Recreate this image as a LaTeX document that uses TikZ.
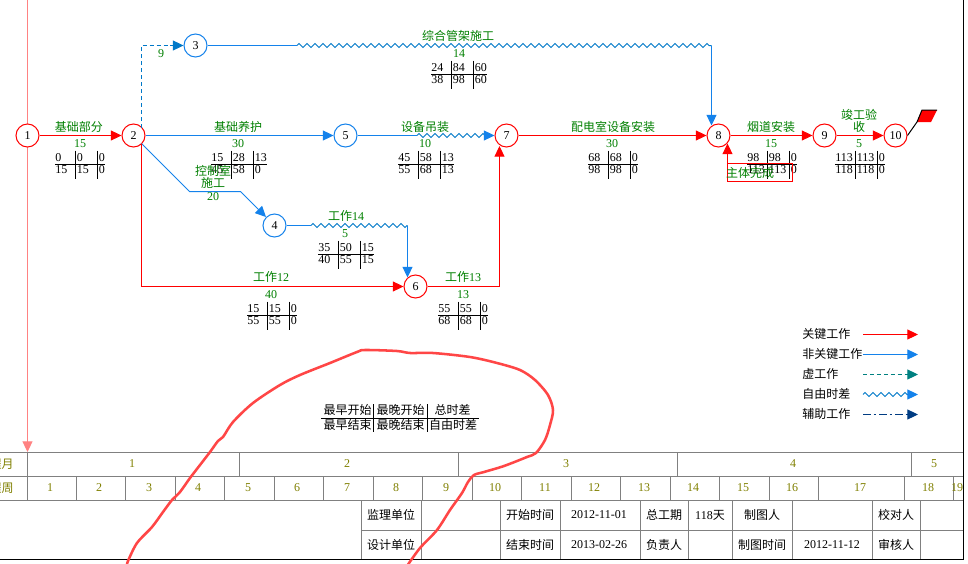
\documentclass[tikz,border=0pt]{standalone}
\usepackage{fontspec}
\setmainfont{Liberation Serif}
\newfontfamily\cjk{Noto Sans CJK SC}
\usetikzlibrary{arrows.meta,decorations.pathmorphing}
\definecolor{netred}{RGB}{255,0,0}
\definecolor{netblue}{RGB}{20,130,235}
\definecolor{netgreen}{RGB}{0,128,0}
\definecolor{netolive}{RGB}{128,128,0}
\definecolor{netgray}{RGB}{128,128,128}
\definecolor{netteal}{RGB}{0,128,128}
\definecolor{netnavy}{RGB}{0,60,130}
\definecolor{netdash}{RGB}{0,120,200}
\definecolor{netpink}{RGB}{255,130,130}
\definecolor{netpen}{RGB}{255,70,70}
\tikzset{
  px/.style={x=0.75pt,y=-0.75pt},
  thinline/.style={line width=0.75pt},
  headed/.style={-{Triangle[length=8pt,width=7.5pt]}},
  evt/.style={circle,draw,fill=white,line width=0.75pt,minimum size=17.25pt,inner sep=0pt,font=\fontsize{9pt}{9pt}\selectfont},
  evtred/.style={evt,draw=netred},
  evtblue/.style={evt,draw=netblue},
  zz/.style={thinline,decorate,decoration={zigzag,segment length=6pt,amplitude=1.5pt}},
  txt/.style={inner sep=0pt,font=\fontsize{9pt}{10pt}\selectfont},
  glabel/.style={txt,text=netgreen,align=center},
  blabel/.style={txt,text=black},
  olabel/.style={txt,text=netolive},
}
\newcount\lblno
\newcommand{\putlabel}[4]{\global\advance\lblno by 1 \node[#1] (lab\the\lblno) at (#2,#3) {#4};}
\newcommand{\tribox}[9]{%
  % #1 x0, #2 y of rule, #3 rule length, #4-#9 values
  \draw[thinline] (#1,#2) -- ++(#3,0);
  \draw[thinline] (#1+20.5,#2-14) -- ++(0,28);
  \draw[thinline] (#1+42.5,#2-14) -- ++(0,28);
  \putlabel{blabel,anchor=west}{#1}{#2-6.5}{#4}
  \putlabel{blabel,anchor=west}{#1+21.5}{#2-6.5}{#5}
  \putlabel{blabel,anchor=west}{#1+43.5}{#2-6.5}{#6}
  \putlabel{blabel,anchor=west}{#1}{#2+5.5}{#7}
  \putlabel{blabel,anchor=west}{#1+21.5}{#2+5.5}{#8}
  \putlabel{blabel,anchor=west}{#1+43.5}{#2+5.5}{#9}
}
\begin{document}
\begin{tikzpicture}[px]
\useasboundingbox (0,0) rectangle (968,564);
\fill[white] (0,0) rectangle (968,564);

% start line
\coordinate (ptop) at (27.5,0);
\coordinate (pbot) at (27.5,452);
\draw[thinline,netpink,headed] (ptop) -- (pbot);

% events
\node[evtred]  (n1) at (27.5,135.5) {1};
\node[evtred]  (n2) at (133.5,135.5) {2};
\node[evtblue] (n3) at (195.5,45.5) {3};
\node[evtblue] (n4) at (274.5,225.5) {4};
\node[evtblue] (n5) at (345.5,135.5) {5};
\node[evtred]  (n6) at (415.5,286.5) {6};
\node[evtred]  (n7) at (506.5,135.5) {7};
\node[evtred]  (n8) at (718.5,135.5) {8};
\node[evtred]  (n9) at (824.5,135.5) {9};
\node[evtred]  (n10) at (895.5,135.5) {10};

% helper coordinates
\coordinate (v2up) at (141.5,127.5);
\coordinate (v2dn) at (141.5,143.5);
\coordinate (c24a) at (189.5,191.5);
\coordinate (c24b) at (240.5,191.5);
\coordinate (w3a) at (297,45.5);
\coordinate (w3b) at (711.5,45.5);
\coordinate (e38) at (711.5,125.5);
\coordinate (w5a) at (417,135.5);
\coordinate (w5b) at (490,135.5);
\coordinate (w4a) at (311,225.5);
\coordinate (w4b) at (407.5,225.5);
\coordinate (e46) at (407.5,277.5);
\coordinate (e67) at (499.5,146);
\coordinate (e98) at (727.5,143.5);

% connectors
\draw[thinline,draw=netdash,dash pattern=on 3pt off 2.2pt,-{Triangle[length=8pt,width=7.5pt,fill=netdash]}] (v2up) |- (n3);
\draw[thinline,netred,headed] (n1) -- (n2);
\draw[thinline,netblue,headed] (n2) -- (n5);
\draw[thinline,netblue,headed] (v2dn) -- (c24a) -- (c24b) -- (n4);
\draw[thinline,netred,headed] (v2dn) |- (n6);
\draw[thinline,netblue] (n3) -- (w3a);
\draw[zz,draw=netdash] (w3a) -- (w3b);
\draw[thinline,netblue,headed] (w3b) -- (e38);
\draw[thinline,netblue] (n5) -- (w5a);
\draw[zz,draw=netdash] (w5a) -- (w5b);
\draw[thinline,netblue,headed] (w5b) -- (n7);
\draw[thinline,netblue] (n4) -- (w4a);
\draw[zz,draw=netdash] (w4a) -- (w4b);
\draw[thinline,netblue,headed] (w4b) -- (e46);
\draw[thinline,netred,headed] (n6) -| (e67);
\draw[thinline,netred,headed] (n7) -- (n8);
\draw[thinline,netred,headed] (n8) -- (n9);
\draw[thinline,netred,headed] (n9) -- (n10);

% flag
\coordinate (fa) at (917,122);
\draw[thinline] (n10.east) -- (fa);
\fill[netred] (fa) -- (922,110) -- (937,110) -- (931,122) -- cycle;
\draw[thinline] (fa) -- (922,110) -- (937,110);

% green labels
\putlabel{glabel}{79}{127}{\cjk 基础部分}
\putlabel{glabel}{80}{144}{15}
\putlabel{glabel}{238}{127}{\cjk 基础养护}
\putlabel{glabel}{238}{144}{30}
\putlabel{glabel}{458}{36}{\cjk 综合管架施工}
\putlabel{glabel}{459}{54}{14}
\putlabel{glabel}{425}{127}{\cjk 设备吊装}
\putlabel{glabel}{425}{144}{10}
\putlabel{glabel}{613}{127}{\cjk 配电室设备安装}
\putlabel{glabel}{612}{144}{30}
\putlabel{glabel}{771}{127}{\cjk 烟道安装}
\putlabel{glabel}{771}{144}{15}
\putlabel{glabel}{859}{115}{\cjk 竣工验}
\putlabel{glabel}{859}{127}{\cjk 收}
\putlabel{glabel}{859}{144}{5}
\putlabel{glabel}{346}{216}{{\cjk 工作}14}
\putlabel{glabel}{345}{234}{5}
\putlabel{glabel}{271}{277}{{\cjk 工作}12}
\putlabel{glabel}{271}{295}{40}
\putlabel{glabel}{463}{277}{{\cjk 工作}13}
\putlabel{glabel}{463}{295}{13}
\putlabel{glabel}{161}{54}{9}

% time tables
\tribox{55}{164.5}{50}{0}{0}{0}{15}{15}{0}
\tribox{211}{164.5}{56}{15}{28}{13}{45}{58}{0}
\tribox{431}{74.5}{56}{24}{84}{60}{38}{98}{60}
\tribox{398}{164.5}{56}{45}{58}{13}{55}{68}{13}
\tribox{588}{164.5}{50}{68}{68}{0}{98}{98}{0}
\tribox{747}{164.5}{50}{98}{98}{0}{113}{113}{0}
\tribox{835}{164.5}{50}{113}{113}{0}{118}{118}{0}
\tribox{318}{254.5}{56}{35}{50}{15}{40}{55}{15}
\tribox{247}{315.5}{50}{15}{15}{0}{55}{55}{0}
\tribox{438}{315.5}{50}{55}{55}{0}{68}{68}{0}

% labels drawn over the tables
\putlabel{glabel}{213}{171}{\cjk 控制室}
\putlabel{glabel}{213}{183}{\cjk 施工}
\putlabel{glabel}{213}{197}{20}
\node[glabel,draw=netred,line width=0.75pt,outer sep=0pt,minimum width=48.75pt,minimum height=13.5pt] (box8) at (760,172.5) {};
\putlabel{glabel}{750}{173}{\cjk 主体完成}
\draw[thinline,netred,headed] (box8.north west) -- (e98);

% legend
\foreach \nm/\yy/\tx in {a/334/关键工作,b/354/非关键工作,c/374/虚工作,d/394/自由时差,e/414/辅助工作}{
  \node[blabel,anchor=west] (leg\nm) at (802,\yy) {\cjk \tx};
  \coordinate (lgs\nm) at (863,\yy.5);
  \coordinate (lge\nm) at (918,\yy.5);
  \coordinate (lgm\nm) at (908,\yy.5);
}
\draw[thinline,netred,headed] (lgsa) -- (lgea);
\draw[thinline,netblue,headed] (lgsb) -- (lgeb);
\draw[thinline,draw=netteal,dash pattern=on 3pt off 2.2pt,-{Triangle[length=8pt,width=7.5pt,fill=netteal]}] (lgsc) -- (lgec);
\draw[zz,draw=netdash] (lgsd) -- (lgmd);
\draw[thinline,netblue,headed] (lgmd) -- (lged);
\draw[thinline,draw=netnavy,dash pattern=on 6pt off 2pt on 2pt off 2pt,-{Triangle[length=8pt,width=7.5pt,fill=netnavy]}] (lgse) -- (lgee);

% key table
\draw[thinline] (321,418.5) -- (479,418.5);
\draw[thinline] (373.5,404) -- (373.5,432);
\draw[thinline] (427.5,404) -- (427.5,432);
\putlabel{blabel}{347.5}{410}{\cjk 最早开始}
\putlabel{blabel}{400.5}{410}{\cjk 最晚开始}
\putlabel{blabel}{452.5}{410}{\cjk 总时差}
\putlabel{blabel}{347.5}{425}{\cjk 最早结束}
\putlabel{blabel}{400.5}{425}{\cjk 最晚结束}
\putlabel{blabel}{453}{425}{\cjk 自由时差}

% time scale grid
\begin{scope}[netgray,line width=0.75pt]
\draw (0,452.5) -- (963,452.5);
\draw (0,476.5) -- (963,476.5);
\draw (0,500.5) -- (963,500.5);
\draw (361,530.5) -- (963,530.5);
\foreach \xx in {27.5,239.5,458.5,677.5,911.5} \draw (\xx,452.5) -- (\xx,476.5);
\foreach \xx in {27.5,76.5,125.5,175.5,224.5,274.5,323.5,373.5,422.5,472.5,521.5,571.5,620.5,670.5,719.5,769.5,818.5,904.5,953.5} \draw (\xx,476.5) -- (\xx,500.5);
\foreach \xx in {361.5,421.5,500.5,560.5,640.5,688.5,732.5,792.5,872.5,920.5} \draw (\xx,500.5) -- (\xx,559);
\end{scope}
\draw[thinline] (0,559.5) -- (963.5,559.5);
\draw[thinline] (963.5,0) -- (963.5,559.5);

\putlabel{olabel,anchor=east}{14}{464}{\cjk 程月}
\putlabel{olabel,anchor=east}{14}{488}{\cjk 程周}
\foreach \xx/\tx in {132/1,347/2,566/3,793/4,934/5} \node[olabel] (mo\tx) at (\xx,464) {\tx};
\foreach \xx/\tx in {50/1,99/2,149/3,198/4,248/5,297/6,347/7,396/8,446/9,495/10,545/11,594/12,644/13,693/14,743/15,792/16,860/17,928/18,957/19}
  \node[olabel] (wk\tx) at (\xx,488) {\tx};

% title block
\foreach \xx/\yy/\tx in {391/515/监理单位,391/545/设计单位,530/515/开始时间,530/545/结束时间,664/515/总工期,664/545/负责人,762/515/制图人,762/545/制图时间,896/515/校对人,896/545/审核人}
  \node[blabel] at (\xx,\yy) {\cjk \tx};
\putlabel{blabel}{599}{515}{2012-11-01}
\putlabel{blabel}{599}{545}{2013-02-26}
\putlabel{blabel}{832}{545}{2012-11-12}
\putlabel{blabel}{710}{515}{118{\cjk 天}}

% freehand pen stroke
\draw[netpen,line width=1.9pt,line cap=round,line join=round] plot[smooth,tension=0.5] coordinates {
(127,566) (128,561) (137,543) (152,527) (163,512) (172,500) (180,492) (190,478) (200,465) (210,452) (218,441) (223,437) (233,422) (253,403) (280,385) (300,375) (330,363) (357,352) (365,350) (397,351) (410,353) (433,353) (470,357) (497,363) (520,370) (535,380) (548,395) (553,410) (550,425) (545,440) (536,453) (527,457) (504,466) (484,472) (474,475) (468,482) (462,493) (450,510) (437,530) (420,548) (407,566)};
\end{tikzpicture}
\end{document}
